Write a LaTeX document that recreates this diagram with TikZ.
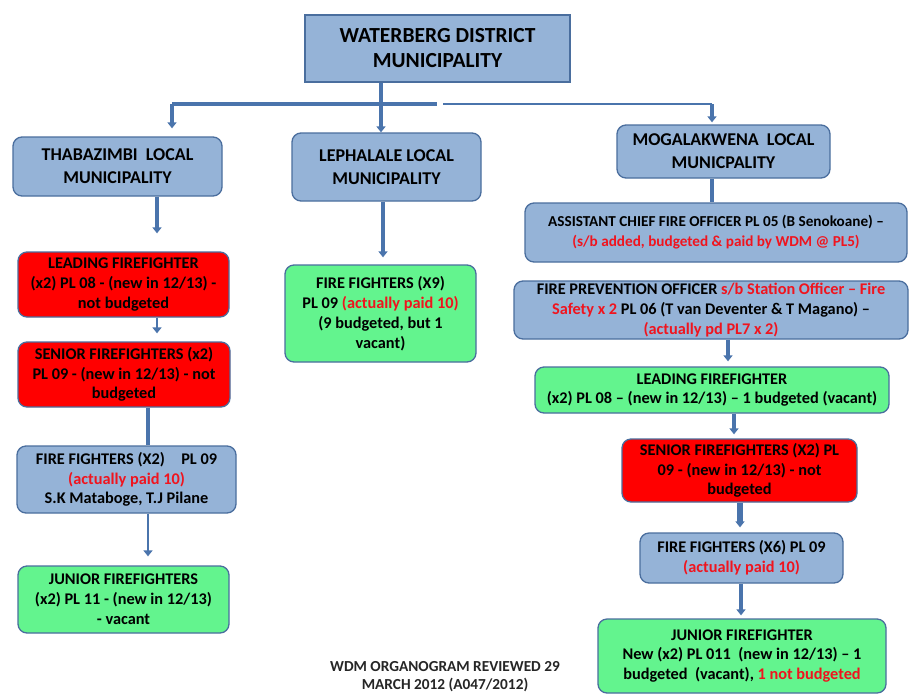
\documentclass[tikz,border=0pt]{standalone}
\usepackage{fontspec}
\setmainfont{Carlito}
\usetikzlibrary{arrows.meta}
\definecolor{bfill}{HTML}{95B3D7}
\definecolor{bdraw}{HTML}{4A6E9E}
\definecolor{gfill}{HTML}{63F48E}
\definecolor{rfill}{HTML}{FF0000}
\definecolor{lnk}{HTML}{4A74AC}
\definecolor{rtxt}{HTML}{F0141E}
\newcommand{\rd}[1]{\textcolor{rtxt}{#1}}
\tikzset{
  box/.style={draw=bdraw, line width=1.3pt, rounded corners=9pt, inner sep=0pt, align=center,
    font=\bfseries\fontsize{16.3}{19.8}\selectfont},
  bluebox/.style={box, fill=bfill},
  greenbox/.style={box, fill=gfill},
  redbox/.style={box, fill=rfill},
  muni/.style={bluebox, font=\bfseries\fontsize{18}{23}\selectfont},
  link/.style={draw=lnk, line width=3.5pt},
  arr/.style={link, -{Triangle[width=9pt,length=6pt]}},
}
\begin{document}
\begin{tikzpicture}[x=1pt,y=-1pt]
\useasboundingbox[fill=white] (0,0) rectangle (910,697);
% top
\node[bluebox, rounded corners=0pt, minimum width=265pt, minimum height=67pt,
  font=\bfseries\fontsize{21.5}{25}\selectfont] (top) at (437.5,48.5) {WATERBERG DISTRICT\\MUNICIPALITY};
% municipalities
\node[muni, minimum width=209pt, minimum height=59pt] (thab) at (117.5,166.5) {THABAZIMBI\ \ LOCAL\\MUNICIPALITY};
\node[muni, minimum width=189pt, minimum height=68pt] (leph) at (386.5,167) {LEPHALALE LOCAL\\MUNICIPALITY};
\node[muni, minimum width=213pt, minimum height=53pt] (mog) at (723.5,151.5) {MOGALAKWENA\ \ LOCAL\\MUNICPALITY};
% left column
\node[redbox, minimum width=211pt, minimum height=65pt] (lff) at (123.5,284.5) {LEADING FIREFIGHTER\\(x2) PL 08 - (new in 12/13) -\\not budgeted};
\node[redbox, minimum width=212pt, minimum height=65pt] (sff) at (124,374.5) {SENIOR FIREFIGHTERS (x2)\\PL 09 - (new in 12/13) - not\\budgeted};
\node[bluebox, minimum width=219pt, minimum height=67pt] (ffl) at (126.5,479.5) {FIRE FIGHTERS (X2)\quad PL 09\\\rd{(actually paid 10)}\\S.K Mataboge, T.J Pilane};
\node[greenbox, minimum width=211pt, minimum height=67pt] (jfl) at (123.5,599.5) {JUNIOR FIREFIGHTERS\\(x2) PL 11 - (new in 12/13)\\- vacant};
% middle
\node[greenbox, minimum width=191pt, minimum height=97pt] (ffm) at (380.5,313.5) {FIRE FIGHTERS (X9)\\PL 09 \rd{(actually paid 10)}\\(9 budgeted, but 1\\vacant)};
% right column
\node[bluebox, minimum width=382pt, minimum height=59pt, font=\bfseries\fontsize{15.2}{20}\selectfont] (acfo) at (716,232.5) {ASSISTANT CHIEF FIRE OFFICER PL 05 (B Senokoane) --\\\rd{(s/b added, budgeted \& paid by WDM @ PL5)}};
\node[bluebox, minimum width=394pt, minimum height=58pt] (fpo) at (711,310) {FIRE PREVENTION OFFICER \rd{s/b Station Officer -- Fire}\\\rd{Safety x 2} PL 06 (T van Deventer \& T Magano) --\\\rd{(actually pd PL7 x 2)}};
\node[greenbox, minimum width=354pt, minimum height=46pt] (lfr) at (712,390) {LEADING FIREFIGHTER\\(x2) PL 08 -- (new in 12/13) -- 1 budgeted (vacant)};
\node[redbox, minimum width=235pt, minimum height=63pt] (sfr) at (739.5,470.5) {SENIOR FIREFIGHTERS (X2) PL\\09 - (new in 12/13) - not\\budgeted};
\node[bluebox, minimum width=203pt, minimum height=50pt] (ffr) at (741.5,558) {FIRE FIGHTERS (X6) PL 09\\\rd{(actually paid 10)}};
\node[greenbox, minimum width=288pt, minimum height=74pt] (jfr) at (742,656) {JUNIOR FIREFIGHTER\\New (x2) PL 011\ \ (new in 12/13) -- 1\\budgeted\ \ (vacant), \rd{1 not budgeted}};
% caption
\node[align=center, inner sep=0pt, text=black!85, font=\bfseries\fontsize{15.3}{18}\selectfont] (cap) at (445,677) {WDM ORGANOGRAM REVIEWED 29\\MARCH 2012 (A047/2012)};
% connectors
\coordinate (bl) at (172,104);
\coordinate (bm) at (381,104);
\coordinate (gl) at (437,104);
\coordinate (gr) at (443,104);
\coordinate (br) at (712,104);
\draw[link] (bl) -- (gl);
\draw[link, line width=2.5pt] (gr) -- (br);
\draw[arr, shorten >=8pt] (bl) -- (thab.north -| bl);
\draw[arr] (top.south -| bm) -- (leph.north -| bm);
\draw[arr, shorten >=2pt] (br) -- (mog.north -| br);
\coordinate (c1) at (157,0);
\draw[arr, shorten >=18pt] (thab.south -| c1) -- (lff.north -| c1);
\draw[arr, line width=2.5pt, shorten >=8pt] (lff.south -| c1) -- (sff.north -| c1);
\coordinate (c2) at (148,0);
\draw[link] (sff.south -| c2) -- (ffl.north -| c2);
\draw[arr, line width=2.5pt, shorten >=9pt] (ffl.south -| c2) -- (jfl.north -| c2);
\coordinate (c3) at (383,0);
\draw[arr, shorten >=7pt] (leph.south -| c3) -- (ffm.north -| c3);
\draw[link] (mog.south -| br) -- (acfo.north -| br);
\coordinate (c4) at (728,0);
\draw[arr, shorten >=5pt] (fpo.south -| c4) -- (lfr.north -| c4);
\coordinate (c5) at (734,0);
\draw[arr, shorten >=4pt] (lfr.south -| c5) -- (sfr.north -| c5);
\coordinate (c6) at (740,0);
\draw[arr, line width=6pt, shorten >=5pt] (sfr.south -| c6) -- (ffr.north -| c6);
\coordinate (c7) at (741,0);
\draw[arr, shorten >=3pt] (ffr.south -| c7) -- (jfr.north -| c7);
\end{tikzpicture}
\end{document}
